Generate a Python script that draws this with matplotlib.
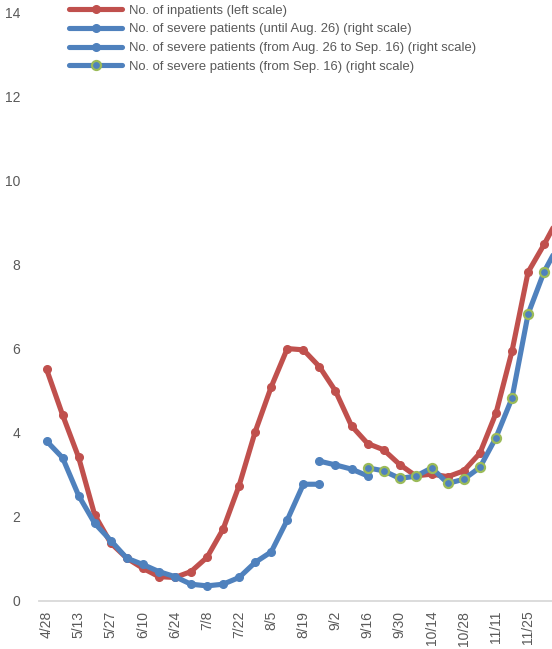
import numpy as np
import matplotlib
matplotlib.use("Agg")
import matplotlib.pyplot as plt

# weekly categories (every other one is labelled)
dates = ["4/28", "5/6", "5/13", "5/20", "5/27", "6/3", "6/10", "6/17", "6/24",
         "7/1", "7/8", "7/15", "7/22", "7/29", "8/5", "8/12", "8/19", "8/26",
         "9/2", "9/9", "9/16", "9/23", "9/30", "10/7", "10/14", "10/21",
         "10/28", "11/4", "11/11", "11/18", "11/25", "12/2", "12/9"]

inpatients = [5.52, 4.43, 3.42, 2.05, 1.38, 1.02, 0.78, 0.58, 0.56, 0.70,
              1.04, 1.71, 2.75, 4.03, 5.10, 6.01, 5.98, 5.58, 5.00, 4.17,
              3.75, 3.60, 3.25, 2.98, 3.02, 2.96, 3.10, 3.52, 4.47, 5.95,
              7.83, 8.49, 9.20]

# severe patients, three definitions
severe_until_aug26 = [3.81, 3.41, 2.51, 1.85, 1.44, 1.02, 0.87, 0.70, 0.58,
                      0.40, 0.36, 0.40, 0.56, 0.92, 1.17, 1.93, 2.78, 2.78]
severe_aug26_sep16 = [3.33, 3.24, 3.14, 2.98]
severe_from_sep16 = [3.17, 3.10, 2.92, 2.97, 3.17, 2.80, 2.90, 3.18, 3.89,
                     4.83, 6.83, 7.84, 8.55]

RED = "#C0504D"
BLUE = "#4F81BD"
GREEN = "#9BBB59"
GRAY = "#595959"

plt.rcParams["font.family"] = ["Liberation Sans", "DejaVu Sans"]

fig = plt.figure(figsize=(5.52, 6.49), dpi=100)
# axes run past the right edge: the picture is cropped there
ax = fig.add_axes([38.5 / 552, 48 / 649, 529.7 / 552, 588 / 649])
ax2 = ax.twinx()

x_all = np.arange(len(dates))
x1 = np.arange(0, len(severe_until_aug26))
x2 = np.arange(17, 17 + len(severe_aug26_sep16))
x3 = np.arange(20, 20 + len(severe_from_sep16))

lw = 3.7
h0, = ax.plot(x_all, inpatients, color=RED, lw=lw, marker="o", ms=5.5,
              solid_capstyle="round", label="No. of inpatients (left scale)")
h1, = ax2.plot(x1, severe_until_aug26, color=BLUE, lw=lw, marker="o", ms=5.5,
               solid_capstyle="round",
               label="No. of severe patients (until Aug. 26) (right scale)")
h2, = ax2.plot(x2, severe_aug26_sep16, color=BLUE, lw=lw, marker="o", ms=5.5,
               solid_capstyle="round",
               label="No. of severe patients (from Aug. 26 to Sep. 16) (right scale)")
h3, = ax2.plot(x3, severe_from_sep16, color=BLUE, lw=lw, marker="o", ms=6.5,
               mfc=BLUE, mec=GREEN, mew=1.6, solid_capstyle="round",
               label="No. of severe patients (from Sep. 16) (right scale)")

for a in (ax, ax2):
    a.set_xlim(-0.5, len(dates) - 0.5)
    a.set_ylim(0, 14)
    for s in a.spines.values():
        s.set_visible(False)
ax.spines["bottom"].set_visible(True)
ax.spines["bottom"].set_color("#D9D9D9")
ax.spines["bottom"].set_linewidth(1.3)

ax.set_yticks(np.arange(0, 15, 2))
ax.tick_params(axis="y", length=0, pad=13, labelsize=10, labelcolor=GRAY)
ax2.set_yticks([])

# labels beyond the cropped edge are left out
ax.set_xticks(x_all[:31:2])
ax.set_xticklabels(dates[:31:2], rotation=90)
ax.tick_params(axis="x", length=0, pad=7, labelsize=10, labelcolor=GRAY)

fig.legend(handles=[h0, h1, h2, h3], loc="upper left",
           bbox_to_anchor=(57 / 552, 1.011), frameon=False, fontsize=9.4,
           handlelength=4.1, handletextpad=0.5, labelspacing=0.5,
           labelcolor=GRAY)

fig.savefig("out.png", dpi=100)
